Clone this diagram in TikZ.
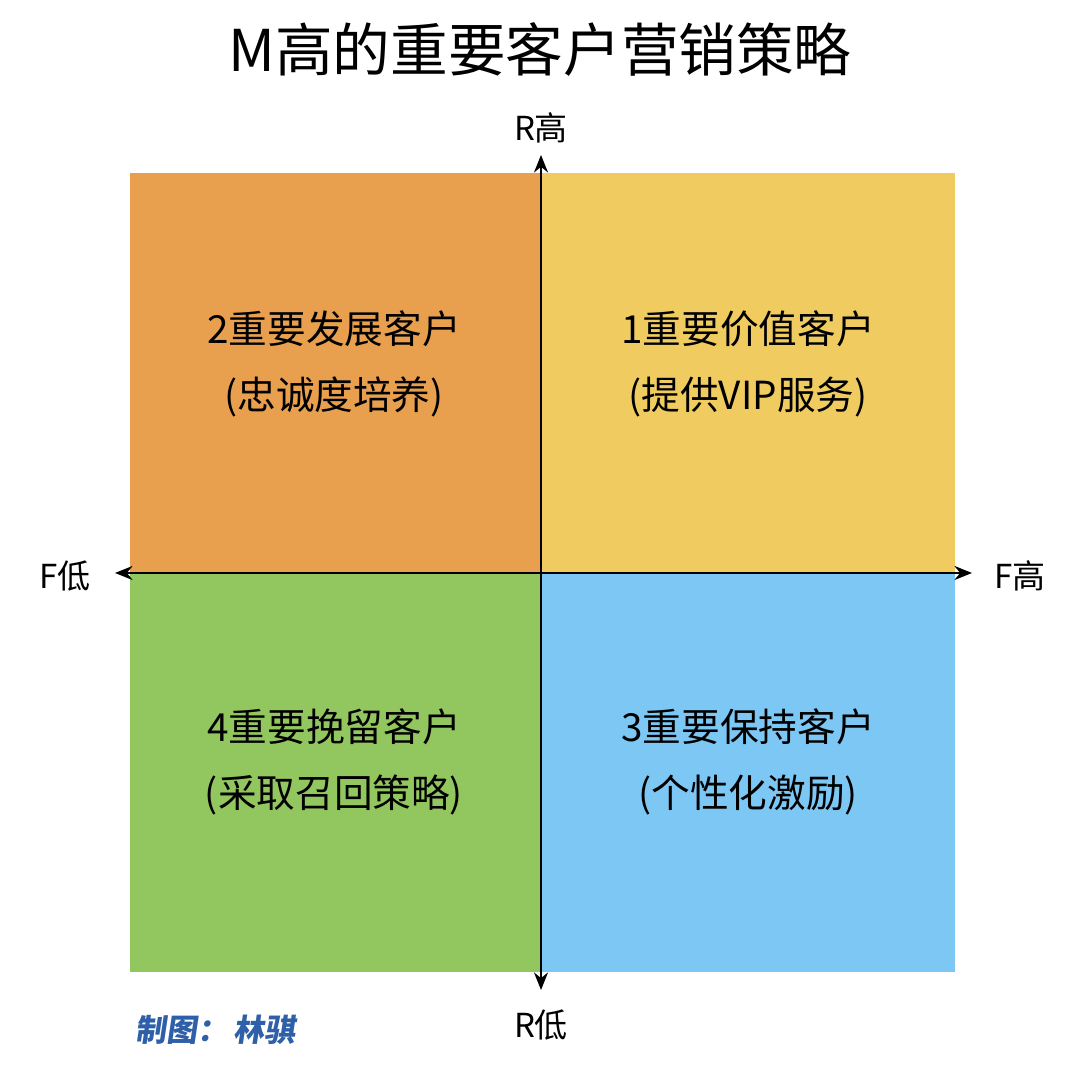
\documentclass[tikz,border=0pt]{standalone}
\usepackage{fontspec}
\setmainfont{Noto Sans CJK SC}
\usetikzlibrary{arrows.meta}
\definecolor{qorange}{RGB}{232,160,78}
\definecolor{qyellow}{RGB}{240,204,96}
\definecolor{qgreen}{RGB}{146,198,94}
\definecolor{qblue}{RGB}{125,199,245}
\definecolor{qink}{RGB}{46,95,168}
\tikzset{
  quadtext/.style={align=center, font=\fontsize{11pt}{19pt}\selectfont},
  axislabel/.style={font=\fontsize{9.4pt}{11pt}\selectfont},
  axisline/.style={line width=0.5pt, {Stealth[length=5pt,width=4pt]}-{Stealth[length=5pt,width=4pt]}}
}

\begin{document}
\begin{tikzpicture}
			%%%%% START %%%%%
			\useasboundingbox (0, 0) rectangle (10.80, 10.78);
			
			\node[font=\fontsize{16.4pt}{18pt}\selectfont] (title) at (5.40, 10.28) {M高的重要客户营销策略};
			
			\fill[qorange] (1.30, 5.05) rectangle (5.41, 9.05);
			\fill[qyellow] (5.41, 5.05) rectangle (9.55, 9.05);
			\fill[qgreen] (1.30, 1.06) rectangle (5.41, 5.05);
			\fill[qblue] (5.41, 1.06) rectangle (9.55, 5.05);
			
			\node[quadtext] (imp2) at (3.34, 7.14) {2重要发展客户\\(忠诚度培养)};
			\node[quadtext] (imp1) at (7.48, 7.14) {1重要价值客户\\(提供VIP服务)};
			\node[quadtext] (imp4) at (3.34, 3.16) {4重要挽留客户\\(采取召回策略)};
			\node[quadtext] (imp3) at (7.48, 3.16) {3重要保持客户\\(个性化激励)};
			
			\coordinate (fl) at (1.15, 5.05);
			\coordinate (fh) at (9.72, 5.05);
			\coordinate (rh) at (5.41, 9.23);
			\coordinate (rl) at (5.41, 0.88);
			\draw[axisline] (fl) -- (fh);
			\draw[axisline] (rl) -- (rh);
			
			\node[axislabel] (rhigh) at (5.41, 9.50) {R高};
			\node[axislabel] (rlow) at (5.41, 0.53) {R低};
			\node[axislabel] (flow) at (0.65, 5.02) {F低};
			\node[axislabel] (fhigh) at (10.20, 5.02) {F高};
			
			\node[font=\fontsize{8.8pt}{10pt}\selectfont\bfseries, text=qink, xslant=0.15] (credit) at (2.17, 0.48) {制图：\,林骐};
			%%%%% END %%%%%
\end{tikzpicture}
\end{document}
